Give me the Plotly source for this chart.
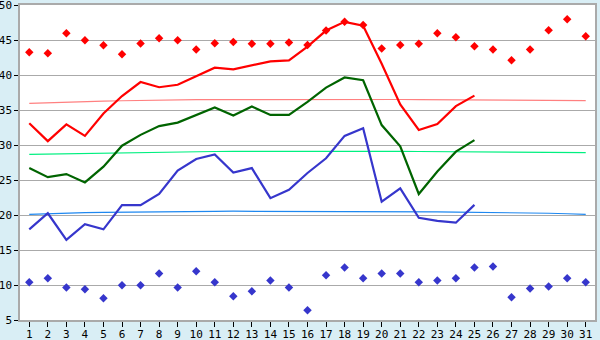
import plotly.graph_objects as go

days = list(range(1, 32))

red_line = [33.1, 30.55, 32.95, 31.3, 34.5, 37.0, 39.0, 38.25, 38.6, 39.85, 41.05, 40.8, 41.4, 41.95, 42.1,
            44.05, 46.35, 47.6, 47.05, 41.6, 35.8, 32.15, 33.0, 35.55, 37.05]
green_line = [26.7, 25.4, 25.85, 24.65, 26.9, 29.9, 31.45, 32.7, 33.2, 34.3, 35.35, 34.2, 35.5, 34.3, 34.3,
              36.15, 38.2, 39.65, 39.25, 32.85, 29.8, 23.0, 26.2, 29.05, 30.7]
blue_line = [17.95, 20.25, 16.45, 18.7, 17.95, 21.4, 21.4, 23.0, 26.35, 28.0, 28.65, 26.05, 26.7, 22.4, 23.6,
             26.0, 28.1, 31.3, 32.4, 21.9, 23.8, 19.6, 19.15, 18.9, 21.45]

red_pts = [43.25, 43.1, 45.95, 44.95, 44.25, 42.95, 44.5, 45.25, 44.95, 43.65, 44.55, 44.7, 44.45, 44.45, 44.65,
           44.3, 46.35, 47.6, 47.15, 43.8, 44.3, 44.45, 45.95, 45.4, 44.1, 43.65, 42.1, 43.65, 46.4, 47.95, 45.55]
blue_pts = [10.4, 10.95, 9.65, 9.4, 8.1, 9.95, 9.95, 11.65, 9.65, 11.95, 10.4, 8.4, 9.1, 10.65, 9.65,
            6.4, 11.4, 12.5, 10.95, 11.65, 11.65, 10.4, 10.65, 10.95, 12.5, 12.65, 8.25, 9.5, 9.8, 10.95, 10.4]

pink_norm = [35.95, 36.05, 36.12, 36.2, 36.26, 36.32, 36.38, 36.42, 36.45, 36.47, 36.49, 36.5, 36.51, 36.52, 36.52,
             36.52, 36.52, 36.52, 36.52, 36.51, 36.5, 36.49, 36.48, 36.46, 36.44, 36.42, 36.4, 36.38, 36.37, 36.36, 36.35]
green_norm = [28.65, 28.7, 28.75, 28.8, 28.87, 28.92, 28.96, 29.0, 29.02, 29.05, 29.07, 29.09, 29.1, 29.1, 29.1,
              29.1, 29.1, 29.1, 29.1, 29.1, 29.08, 29.07, 29.05, 29.03, 29.0, 28.98, 28.96, 28.95, 28.94, 28.93, 28.92]
blue_norm = [20.1, 20.2, 20.27, 20.33, 20.38, 20.42, 20.45, 20.48, 20.5, 20.52, 20.53, 20.54, 20.54, 20.54, 20.54,
             20.54, 20.53, 20.53, 20.52, 20.51, 20.5, 20.47, 20.44, 20.42, 20.4, 20.38, 20.35, 20.3, 20.25, 20.18, 20.1]

y_ticks = [5, 10, 15, 20, 25, 30, 35, 40, 45, 50]

fig = go.Figure()
for vals, col in [(pink_norm, "#ff8080"), (green_norm, "#00f080"), (blue_norm, "#1e88f0")]:
    fig.add_trace(go.Scatter(x=days, y=vals, mode="lines", line=dict(color=col, width=1.2),
                             hoverinfo="skip", showlegend=False))
for vals, col in [(red_line, "#ff0000"), (green_line, "#006400"), (blue_line, "#3636cc")]:
    fig.add_trace(go.Scatter(x=days[:len(vals)], y=vals, mode="lines", line=dict(color=col, width=2.2),
                             showlegend=False))
fig.add_trace(go.Scatter(x=days, y=red_pts, mode="markers",
                         marker=dict(symbol="diamond", size=6.5, color="#ff0000"), showlegend=False))
fig.add_trace(go.Scatter(x=days, y=blue_pts, mode="markers",
                         marker=dict(symbol="diamond", size=6.5, color="#3636cc"), showlegend=False))

fig.update_layout(
    width=600, height=340,
    margin=dict(l=20, r=5, t=5, b=20, autoexpand=False),
    paper_bgcolor="#d9eef5",
    plot_bgcolor="#ffffff",
    font=dict(family="DejaVu Sans Mono", size=11, color="#000000"),
    xaxis=dict(range=[0.5, 31.5], tickmode="array", tickvals=days, ticktext=[str(d) for d in days],
               showgrid=False, zeroline=False, showline=True, linecolor="#aaaaaa", linewidth=1.5, mirror=True,
               ticks="outside", ticklen=5, tickcolor="#000000", tickangle=0, automargin=False,
               ticklabelstandoff=-2, ticklabeloverflow="allow"),
    yaxis=dict(range=[5, 50], tickmode="array", tickvals=y_ticks,
               showgrid=True, gridcolor="#aaaaaa", gridwidth=1.2, zeroline=False,
               showline=True, linecolor="#aaaaaa", linewidth=1.5, mirror=True,
               ticks="outside", ticklen=4, tickcolor="#000000", automargin=False,
               ticklabeloverflow="allow"),
)

fig.write_html("out.html")
